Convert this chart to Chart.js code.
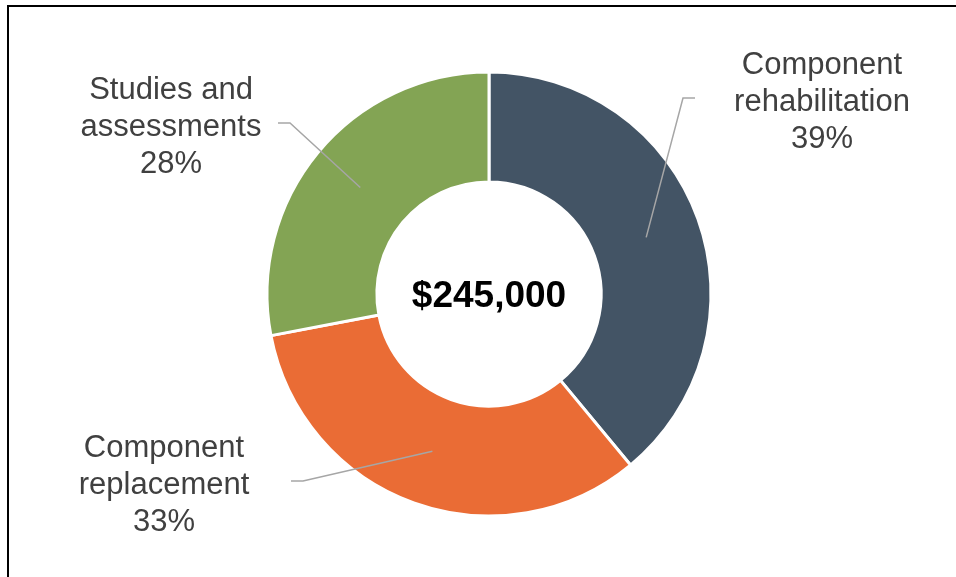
<!DOCTYPE html>
<html>
<head>
<meta charset="utf-8">
<script src="https://cdn.jsdelivr.net/npm/chart.js@4"></script>
<style>
  html, body { margin: 0; padding: 0; background: #fff; overflow: hidden; }
  #wrap { position: relative; width: 956px; height: 577px; }
  #frame {
    position: absolute; left: 7px; top: 5px;
    width: 1000px; height: 1000px;
    border: 2px solid #000; box-sizing: border-box;
  }
  canvas { position: absolute; left: 0; top: 0; }
</style>
</head>
<body>
<div id="wrap">
  <div id="frame"></div>
  <canvas id="myChart" width="956" height="577"></canvas>
</div>
<script>
const labelLines = [
    ["Component", "rehabilitation"],
    ["Component", "replacement"],
    ["Studies and", "assessments"]
];
const shares = [39, 33, 28];
const sliceColors = ["#435465", "#EA6C35", "#83A454"];
const totalText = "$245,000";

// leader elbow, leader end and text centre, relative to the doughnut centre
const calloutPlacement = [
    { elbow: [194, -196], end: [206, -196], text: [333, -192] },
    { elbow: [-186, 187], end: [-198, 187], text: [-325, 191] },
    { elbow: [-199, -171], end: [-211, -171], text: [-318, -167] }
];

const calloutPlugin = {
    id: "callouts",
    afterDatasetsDraw(chart) {
        const ctx = chart.ctx;
        const arcs = chart.getDatasetMeta(0).data;
        const cx = arcs[0].x;
        const cy = arcs[0].y;

        ctx.save();
        arcs.forEach((arc, i) => {
            const p = calloutPlacement[i];
            const start = arc.getCenterPoint();
            ctx.strokeStyle = "#A6A6A6";
            ctx.lineWidth = 1.5;
            ctx.beginPath();
            ctx.moveTo(start.x, start.y);
            ctx.lineTo(cx + p.elbow[0], cy + p.elbow[1]);
            ctx.lineTo(cx + p.end[0], cy + p.end[1]);
            ctx.stroke();

            const lines = labelLines[i].concat([shares[i] + "%"]);
            ctx.fillStyle = "#404040";
            ctx.font = "31px 'Liberation Sans', Arial, sans-serif";
            ctx.textAlign = "center";
            ctx.textBaseline = "middle";
            lines.forEach((t, j) => {
                ctx.fillText(t, cx + p.text[0], cy + p.text[1] + (j - 1) * 37);
            });
        });

        ctx.fillStyle = "#000";
        ctx.font = "bold 37px 'Liberation Sans', Arial, sans-serif";
        ctx.textAlign = "center";
        ctx.textBaseline = "middle";
        ctx.fillText(totalText, cx, cy + 3);
        ctx.restore();
    }
};

new Chart("myChart", {
    type: "doughnut",
    data: {
        labels: labelLines.map(l => l.join(" ")),
        datasets: [{
            data: shares,
            backgroundColor: sliceColors,
            borderColor: "#fff",
            borderWidth: 3,
            radius: 222
        }]
    },
    options: {
        responsive: false,
        animation: false,
        cutout: "50.5%",
        layout: { padding: { left: 22, top: 11, right: 0, bottom: 0 } },
        plugins: {
            legend: { display: false },
            tooltip: { enabled: false }
        }
    },
    plugins: [calloutPlugin]
});
</script>
</body>
</html>
